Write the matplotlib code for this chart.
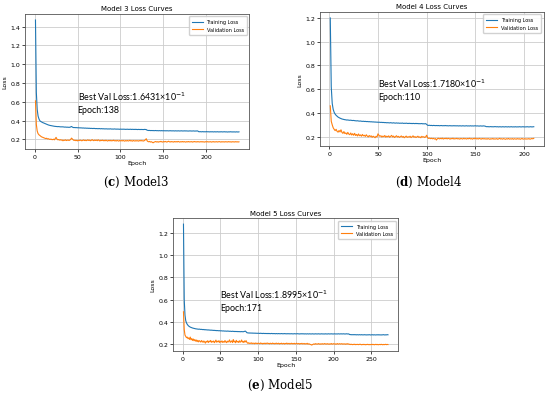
import numpy as np
import matplotlib.pyplot as plt

# loss values per epoch
m3_train = [
    1.47, 0.70, 0.52, 0.45, 0.42, 0.40, 0.392, 0.386, 0.381, 0.377,
    0.373, 0.369, 0.365, 0.361, 0.357, 0.354, 0.351, 0.349, 0.347, 0.345,
    0.343, 0.341, 0.340, 0.339, 0.338, 0.337, 0.336, 0.337, 0.335, 0.334,
    0.334, 0.333, 0.334, 0.332, 0.331, 0.332, 0.330, 0.331, 0.329, 0.330,
    0.329, 0.333, 0.338, 0.331, 0.327, 0.326, 0.327, 0.325, 0.326, 0.324,
    0.325, 0.323, 0.324, 0.322, 0.323, 0.321, 0.322, 0.320, 0.321, 0.320,
    0.319, 0.320, 0.318, 0.319, 0.317, 0.318, 0.317, 0.316, 0.318, 0.316,
    0.315, 0.316, 0.315, 0.314, 0.316, 0.314, 0.313, 0.315, 0.313, 0.314,
    0.312, 0.313, 0.312, 0.313, 0.311, 0.312, 0.311, 0.313, 0.311, 0.310,
    0.311, 0.310, 0.312, 0.310, 0.309, 0.311, 0.309, 0.310, 0.308, 0.310,
    0.309, 0.308, 0.310, 0.308, 0.309, 0.307, 0.308, 0.309, 0.307, 0.308,
    0.307, 0.309, 0.306, 0.308, 0.307, 0.306, 0.308, 0.306, 0.307, 0.305,
    0.307, 0.306, 0.305, 0.307, 0.305, 0.306, 0.305, 0.307, 0.306, 0.305,
    0.298, 0.296, 0.295, 0.296, 0.294, 0.295, 0.294, 0.295, 0.293, 0.294,
    0.295, 0.293, 0.294, 0.292, 0.294, 0.293, 0.292, 0.294, 0.292, 0.293,
    0.292, 0.293, 0.291, 0.293, 0.292, 0.291, 0.292, 0.293, 0.291, 0.292,
    0.291, 0.292, 0.290, 0.292, 0.291, 0.290, 0.292, 0.291, 0.290, 0.291,
    0.292, 0.290, 0.291, 0.290, 0.292, 0.290, 0.291, 0.290, 0.289, 0.291,
    0.290, 0.291, 0.289, 0.290, 0.291, 0.289, 0.290, 0.289, 0.291, 0.290,
    0.283, 0.282, 0.283, 0.281, 0.282, 0.283, 0.281, 0.282, 0.281, 0.283,
    0.282, 0.281, 0.282, 0.280, 0.282, 0.281, 0.282, 0.280, 0.281, 0.282,
    0.280, 0.281, 0.282, 0.280, 0.281, 0.280, 0.282, 0.281, 0.280, 0.281,
    0.282, 0.280, 0.281, 0.280, 0.279, 0.281, 0.280, 0.282, 0.280, 0.281,
    0.279, 0.281, 0.280, 0.279, 0.281, 0.280, 0.279, 0.281,
]
m3_val = [
    0.61, 0.36, 0.29, 0.262, 0.250, 0.243, 0.236, 0.228, 0.224, 0.219,
    0.215, 0.212, 0.209, 0.213, 0.205, 0.208, 0.203, 0.200, 0.204, 0.199,
    0.198, 0.203, 0.196, 0.209, 0.222, 0.204, 0.196, 0.199, 0.193, 0.197,
    0.192, 0.195, 0.186, 0.193, 0.190, 0.196, 0.188, 0.192, 0.194, 0.189,
    0.193, 0.201, 0.214, 0.204, 0.195, 0.189, 0.193, 0.187, 0.191, 0.185,
    0.192, 0.188, 0.194, 0.189, 0.186, 0.191, 0.195, 0.188, 0.192, 0.187,
    0.190, 0.196, 0.189, 0.193, 0.186, 0.191, 0.198, 0.190, 0.187, 0.194,
    0.189, 0.193, 0.187, 0.196, 0.190, 0.184, 0.191, 0.188, 0.193, 0.186,
    0.190, 0.185, 0.192, 0.188, 0.183, 0.190, 0.186, 0.191, 0.184, 0.189,
    0.186, 0.192, 0.185, 0.188, 0.183, 0.190, 0.186, 0.182, 0.189, 0.185,
    0.188, 0.184, 0.190, 0.185, 0.182, 0.188, 0.184, 0.189, 0.183, 0.186,
    0.191, 0.184, 0.187, 0.182, 0.189, 0.185, 0.183, 0.188, 0.184, 0.187,
    0.182, 0.188, 0.185, 0.190, 0.184, 0.187, 0.183, 0.189, 0.196, 0.208,
    0.186, 0.178, 0.175, 0.179, 0.172, 0.176, 0.170, 0.16431, 0.171, 0.175,
    0.178, 0.173, 0.176, 0.171, 0.177, 0.174, 0.180, 0.175, 0.172, 0.177,
    0.174, 0.179, 0.175, 0.172, 0.177, 0.181, 0.175, 0.173, 0.178, 0.174,
    0.176, 0.172, 0.178, 0.174, 0.177, 0.173, 0.179, 0.175, 0.172, 0.176,
    0.174, 0.178, 0.173, 0.177, 0.175, 0.172, 0.176, 0.174, 0.178, 0.173,
    0.176, 0.174, 0.177, 0.172, 0.175, 0.178, 0.174, 0.176, 0.173, 0.177,
    0.175, 0.173, 0.176, 0.174, 0.177, 0.173, 0.175, 0.172, 0.176, 0.174,
    0.177, 0.173, 0.175, 0.174, 0.176, 0.172, 0.175, 0.177, 0.173, 0.175,
    0.174, 0.176, 0.173, 0.175, 0.177, 0.174, 0.172, 0.176, 0.174, 0.175,
    0.173, 0.176, 0.174, 0.175, 0.173, 0.177, 0.174, 0.175, 0.172, 0.176,
    0.174, 0.175, 0.173, 0.176, 0.174, 0.175, 0.173, 0.175,
]

m4_train = [
    1.20, 0.62, 0.48, 0.43, 0.405, 0.39, 0.38, 0.372, 0.365, 0.36,
    0.356, 0.352, 0.349, 0.347, 0.345, 0.343, 0.342, 0.340, 0.341, 0.339,
    0.338, 0.339, 0.337, 0.336, 0.337, 0.335, 0.334, 0.333, 0.334, 0.332,
    0.331, 0.332, 0.330, 0.329, 0.330, 0.328, 0.329, 0.327, 0.328, 0.326,
    0.327, 0.325, 0.326, 0.324, 0.325, 0.323, 0.324, 0.322, 0.323, 0.321,
    0.322, 0.321, 0.320, 0.321, 0.319, 0.320, 0.318, 0.319, 0.317, 0.318,
    0.317, 0.316, 0.318, 0.316, 0.315, 0.317, 0.315, 0.314, 0.316, 0.314,
    0.315, 0.313, 0.314, 0.313, 0.315, 0.312, 0.313, 0.312, 0.314, 0.312,
    0.311, 0.313, 0.311, 0.312, 0.310, 0.312, 0.311, 0.310, 0.312, 0.310,
    0.311, 0.309, 0.310, 0.309, 0.311, 0.308, 0.309, 0.308, 0.310, 0.303,
    0.296, 0.295, 0.296, 0.294, 0.295, 0.293, 0.295, 0.294, 0.293, 0.294,
    0.293, 0.294, 0.292, 0.293, 0.294, 0.292, 0.293, 0.292, 0.294, 0.292,
    0.293, 0.291, 0.292, 0.293, 0.291, 0.292, 0.291, 0.293, 0.291, 0.292,
    0.291, 0.292, 0.290, 0.292, 0.291, 0.290, 0.292, 0.291, 0.290, 0.291,
    0.292, 0.290, 0.291, 0.290, 0.292, 0.290, 0.291, 0.290, 0.291, 0.292,
    0.290, 0.291, 0.290, 0.289, 0.291, 0.290, 0.289, 0.291, 0.290, 0.289,
    0.285, 0.284, 0.285, 0.283, 0.284, 0.285, 0.283, 0.284, 0.283, 0.285,
    0.284, 0.283, 0.284, 0.282, 0.284, 0.283, 0.282, 0.284, 0.283, 0.282,
    0.284, 0.283, 0.282, 0.284, 0.282, 0.283, 0.284, 0.282, 0.283, 0.282,
    0.284, 0.282, 0.283, 0.282, 0.284, 0.283, 0.282, 0.283, 0.284, 0.282,
    0.283, 0.282, 0.284, 0.283, 0.282, 0.283, 0.284, 0.282, 0.283, 0.284,
]
m4_val = [
    0.46, 0.33, 0.30, 0.275, 0.262, 0.251, 0.262, 0.245, 0.238, 0.252,
    0.240, 0.258, 0.236, 0.228, 0.243, 0.226, 0.232, 0.220, 0.236, 0.222,
    0.217, 0.231, 0.214, 0.225, 0.212, 0.228, 0.210, 0.219, 0.206, 0.223,
    0.208, 0.215, 0.204, 0.219, 0.207, 0.212, 0.202, 0.216, 0.205, 0.198,
    0.210, 0.201, 0.207, 0.195, 0.204, 0.199, 0.191, 0.203, 0.198, 0.224,
    0.212, 0.203, 0.208, 0.197, 0.205, 0.200, 0.210, 0.196, 0.204, 0.199,
    0.207, 0.195, 0.203, 0.211, 0.198, 0.205, 0.193, 0.201, 0.208, 0.197,
    0.203, 0.194, 0.200, 0.206, 0.196, 0.202, 0.191, 0.199, 0.205, 0.194,
    0.200, 0.196, 0.204, 0.192, 0.199, 0.207, 0.195, 0.201, 0.193, 0.198,
    0.204, 0.194, 0.199, 0.191, 0.203, 0.196, 0.200, 0.193, 0.199, 0.212,
    0.190, 0.185, 0.188, 0.183, 0.187, 0.182, 0.186, 0.180, 0.184, 0.17180,
    0.183, 0.187, 0.181, 0.186, 0.182, 0.188, 0.180, 0.185, 0.183, 0.187,
    0.181, 0.186, 0.184, 0.179, 0.185, 0.182, 0.187, 0.180, 0.184, 0.182,
    0.186, 0.181, 0.184, 0.179, 0.185, 0.183, 0.180, 0.186, 0.182, 0.184,
    0.180, 0.185, 0.182, 0.187, 0.181, 0.184, 0.179, 0.185, 0.182, 0.188,
    0.181, 0.184, 0.180, 0.186, 0.182, 0.179, 0.185, 0.181, 0.184, 0.180,
    0.183, 0.179, 0.184, 0.181, 0.178, 0.183, 0.180, 0.185, 0.179, 0.182,
    0.180, 0.184, 0.178, 0.182, 0.186, 0.180, 0.183, 0.179, 0.184, 0.181,
    0.178, 0.183, 0.180, 0.185, 0.179, 0.182, 0.180, 0.184, 0.178, 0.183,
    0.181, 0.179, 0.184, 0.180, 0.183, 0.178, 0.182, 0.185, 0.179, 0.181,
    0.183, 0.179, 0.182, 0.180, 0.184, 0.179, 0.181, 0.185, 0.182, 0.186,
]

m5_train = [
    1.28, 0.60, 0.46, 0.41, 0.39, 0.377, 0.368, 0.361, 0.356, 0.352,
    0.349, 0.346, 0.344, 0.342, 0.340, 0.339, 0.337, 0.336, 0.335, 0.334,
    0.333, 0.334, 0.332, 0.331, 0.332, 0.330, 0.329, 0.331, 0.328, 0.329,
    0.327, 0.328, 0.326, 0.327, 0.325, 0.326, 0.324, 0.325, 0.323, 0.324,
    0.322, 0.323, 0.321, 0.322, 0.320, 0.321, 0.320, 0.319, 0.320, 0.318,
    0.319, 0.318, 0.317, 0.318, 0.316, 0.317, 0.316, 0.315, 0.317, 0.315,
    0.316, 0.314, 0.315, 0.314, 0.313, 0.315, 0.313, 0.314, 0.312, 0.313,
    0.312, 0.313, 0.311, 0.312, 0.311, 0.312, 0.310, 0.312, 0.311, 0.310,
    0.312, 0.314, 0.316, 0.310, 0.302, 0.300, 0.299, 0.300, 0.298, 0.299,
    0.298, 0.299, 0.297, 0.298, 0.297, 0.298, 0.296, 0.297, 0.296, 0.297,
    0.296, 0.295, 0.297, 0.295, 0.296, 0.294, 0.296, 0.295, 0.294, 0.295,
    0.294, 0.295, 0.293, 0.295, 0.294, 0.293, 0.294, 0.295, 0.293, 0.294,
    0.293, 0.294, 0.292, 0.294, 0.293, 0.292, 0.294, 0.293, 0.292, 0.293,
    0.294, 0.292, 0.293, 0.292, 0.294, 0.292, 0.293, 0.291, 0.293, 0.292,
    0.293, 0.291, 0.292, 0.293, 0.291, 0.292, 0.291, 0.293, 0.292, 0.291,
    0.292, 0.293, 0.291, 0.292, 0.290, 0.292, 0.291, 0.293, 0.291, 0.292,
    0.290, 0.292, 0.291, 0.290, 0.292, 0.291, 0.290, 0.292, 0.291, 0.290,
    0.291, 0.292, 0.290, 0.291, 0.290, 0.292, 0.291, 0.290, 0.291, 0.292,
    0.290, 0.291, 0.290, 0.292, 0.291, 0.290, 0.291, 0.290, 0.292, 0.290,
    0.291, 0.290, 0.292, 0.291, 0.290, 0.291, 0.292, 0.290, 0.291, 0.290,
    0.292, 0.291, 0.290, 0.291, 0.290, 0.292, 0.291, 0.290, 0.291, 0.292,
    0.290, 0.291, 0.292, 0.290, 0.291, 0.290, 0.292, 0.291, 0.290, 0.291,
    0.286, 0.284, 0.285, 0.283, 0.284, 0.283, 0.285, 0.283, 0.284, 0.282,
    0.284, 0.283, 0.282, 0.284, 0.283, 0.282, 0.284, 0.282, 0.283, 0.282,
    0.284, 0.282, 0.283, 0.281, 0.283, 0.282, 0.284, 0.282, 0.281, 0.283,
    0.282, 0.284, 0.281, 0.283, 0.282, 0.281, 0.283, 0.282, 0.284, 0.281,
    0.283, 0.282, 0.281, 0.283, 0.282, 0.284, 0.282, 0.281, 0.283, 0.282,
    0.284, 0.283,
]
m5_val = [
    0.49, 0.33, 0.28, 0.268, 0.257, 0.262, 0.248, 0.255, 0.241, 0.262,
    0.238, 0.249, 0.232, 0.245, 0.229, 0.240, 0.226, 0.236, 0.221, 0.233,
    0.219, 0.230, 0.225, 0.217, 0.231, 0.222, 0.215, 0.227, 0.219, 0.208,
    0.224, 0.218, 0.229, 0.213, 0.226, 0.220, 0.232, 0.215, 0.224, 0.218,
    0.227, 0.212, 0.222, 0.235, 0.216, 0.225, 0.219, 0.230, 0.213, 0.223,
    0.218, 0.228, 0.214, 0.222, 0.216, 0.231, 0.219, 0.212, 0.226, 0.217,
    0.224, 0.237, 0.215, 0.222, 0.228, 0.213, 0.240, 0.219, 0.225, 0.211,
    0.233, 0.218, 0.223, 0.214, 0.229, 0.216, 0.221, 0.236, 0.217, 0.224,
    0.213, 0.228, 0.219, 0.230, 0.215, 0.207, 0.211, 0.204, 0.209, 0.205,
    0.210, 0.203, 0.208, 0.206, 0.202, 0.209, 0.204, 0.207, 0.203, 0.208,
    0.205, 0.202, 0.209, 0.204, 0.207, 0.201, 0.206, 0.203, 0.208, 0.202,
    0.205, 0.209, 0.203, 0.206, 0.201, 0.207, 0.204, 0.202, 0.208, 0.203,
    0.206, 0.201, 0.205, 0.208, 0.202, 0.204, 0.207, 0.200, 0.205, 0.203,
    0.207, 0.201, 0.204, 0.206, 0.200, 0.205, 0.203, 0.208, 0.201, 0.204,
    0.206, 0.200, 0.203, 0.207, 0.201, 0.205, 0.202, 0.206, 0.200, 0.204,
    0.207, 0.201, 0.203, 0.205, 0.199, 0.204, 0.202, 0.206, 0.200, 0.203,
    0.205, 0.199, 0.203, 0.201, 0.206, 0.198, 0.202, 0.200, 0.196, 0.194,
    0.18995, 0.195, 0.198, 0.201, 0.197, 0.203, 0.199, 0.201, 0.198, 0.204,
    0.200, 0.197, 0.202, 0.199, 0.203, 0.198, 0.201, 0.204, 0.199, 0.202,
    0.198, 0.203, 0.200, 0.197, 0.202, 0.199, 0.204, 0.198, 0.201, 0.203,
    0.199, 0.202, 0.197, 0.201, 0.204, 0.198, 0.200, 0.203, 0.199, 0.201,
    0.203, 0.198, 0.201, 0.199, 0.202, 0.197, 0.200, 0.203, 0.198, 0.201,
    0.197, 0.195, 0.198, 0.196, 0.194, 0.197, 0.195, 0.198, 0.194, 0.196,
    0.195, 0.197, 0.194, 0.196, 0.198, 0.195, 0.193, 0.196, 0.194, 0.197,
    0.195, 0.193, 0.196, 0.194, 0.197, 0.195, 0.193, 0.196, 0.194, 0.195,
    0.197, 0.194, 0.196, 0.193, 0.195, 0.197, 0.194, 0.196, 0.193, 0.195,
    0.196, 0.194, 0.197, 0.195, 0.193, 0.196, 0.194, 0.195, 0.197, 0.194,
    0.196, 0.195,
]

titles = ["Model 3 Loss Curves", "Model 4 Loss Curves", "Model 5 Loss Curves"]
captions = [("c", "Model3"), ("d", "Model4"), ("e", "Model5")]

fig = plt.figure(figsize=(5.5, 4.02), dpi=100)
# axes boxes [left, bottom, width, height] in figure fractions
boxes = [
    [0.046, 0.627, 0.407, 0.336],
    [0.582, 0.634, 0.407, 0.334],
    [0.315, 0.124, 0.409, 0.331],
]
cap_pos = [(0.248, 0.545), (0.780, 0.545), (0.509, 0.042)]

data = [(m3_train, m3_val), (m4_train, m4_val), (m5_train, m5_val)]

for i, (train, val) in enumerate(data):
    ax = fig.add_axes(boxes[i])
    ep = np.arange(1, len(train) + 1)
    ax.plot(ep, train, color="tab:blue", lw=0.8, label="Training Loss")
    ax.plot(ep, val, color="tab:orange", lw=0.8, label="Validation Loss")
    ax.set_title(titles[i], fontsize=5, pad=2.5)
    ax.set_xlabel("Epoch", fontsize=4.5, labelpad=1)
    ax.set_ylabel("Loss", fontsize=4.5, labelpad=2)
    ax.tick_params(labelsize=4.5, length=2, width=0.5, pad=1.5)
    ax.grid(True, color="#cccccc", lw=0.6)
    for s in ax.spines.values():
        s.set_color("#555555")
        s.set_linewidth(0.6)
    ax.legend(loc="upper right", fontsize=3.6, framealpha=0.9,
              handlelength=2.2, borderpad=0.6, labelspacing=0.45,
              edgecolor="#cccccc")

    best = int(np.argmin(val))
    mant = val[best] * 10
    ax.text(50, 0.6, f"Best Val Loss:{mant:.4f}×10" + r"$^{-1}$"
            + f"\nEpoch:{best + 1}",
            fontsize=6.4, family=["Lato", "DejaVu Sans"],
            math_fontfamily="dejavusans",
            va="center", ha="left", linespacing=1.45)

    letter, name = captions[i]
    fig.text(cap_pos[i][0], cap_pos[i][1],
             r"($\mathbf{" + letter + r"}$) " + name,
             fontsize=8.5, family="DejaVu Serif",
             math_fontfamily="dejavuserif", ha="center", va="center")

fig.savefig("out.png", dpi=100)
